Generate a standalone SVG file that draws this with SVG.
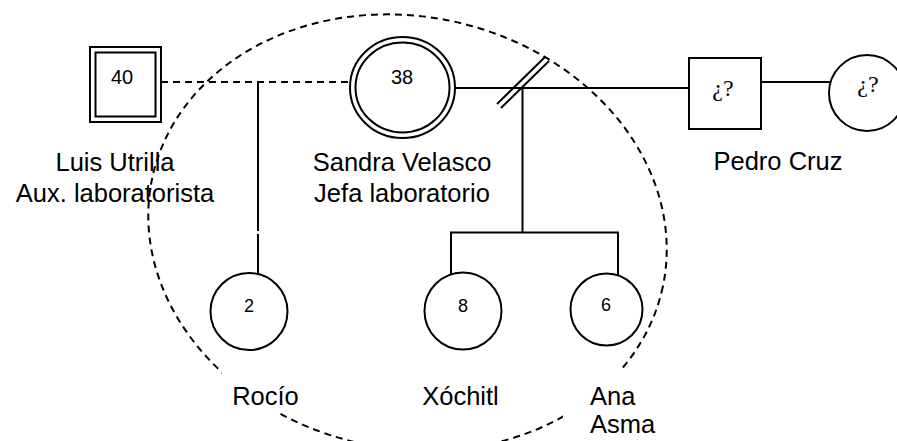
<svg xmlns="http://www.w3.org/2000/svg" width="897" height="441" viewBox="0 0 897 441">
  <style>
    .shape { fill: #fff; stroke: #000; stroke-width: 2; }
    .line { fill: none; stroke: #000; stroke-width: 2; }
    .dash { fill: none; stroke: #000; stroke-width: 2; stroke-dasharray: 7 5; }
    .num { font-family: "Liberation Sans", Arial, sans-serif; font-size: 20px; fill: #000; text-anchor: middle; }
    .small { font-size: 18px; }
    .q { font-family: "Liberation Serif", "Times New Roman", serif; font-size: 24px; fill: #000; text-anchor: middle; }
    .lbl { font-family: "Liberation Sans", Arial, sans-serif; font-size: 25.5px; fill: #000; text-anchor: middle; }
    .left { text-anchor: start; }
    .mask { fill: #fff; stroke: none; }
  </style>

  <!-- household boundary -->
  <g id="household">
    <ellipse class="dash" cx="407.5" cy="232.5" rx="261" ry="216" transform="rotate(12 407.5 232.5)"/>
  </g>

  <!-- connectors -->
  <g id="connectors">
    <line class="dash" x1="161" y1="82" x2="350" y2="82"/>
    <line class="line" x1="258" y1="82" x2="258" y2="231"/>
    <line class="line" x1="258" y1="234" x2="258" y2="274"/>
    <line class="line" x1="455" y1="88" x2="689" y2="88"/>
    <line class="line" x1="497" y1="104" x2="545" y2="57"/>
    <line class="line" x1="501" y1="108" x2="549" y2="61"/>
    <line class="line" x1="522.5" y1="88" x2="522.5" y2="233"/>
    <line class="line" x1="450" y1="232.5" x2="619" y2="232.5"/>
    <line class="line" x1="451" y1="232.5" x2="451" y2="276"/>
    <line class="line" x1="618" y1="232.5" x2="618" y2="276"/>
    <line class="line" x1="761" y1="82" x2="830" y2="82"/>
  </g>

  <!-- Luis Utrilla -->
  <g id="luis">
    <rect class="shape" x="90" y="47" width="71" height="75"/>
    <rect class="shape" x="95.5" y="52.5" width="60" height="64"/>
    <text class="num" x="122" y="84">40</text>
    <text class="lbl" x="115" y="171">Luis Utrilla</text>
    <text class="lbl" x="115" y="202">Aux. laboratorista</text>
  </g>

  <!-- Sandra Velasco -->
  <g id="sandra">
    <ellipse class="shape" cx="402.5" cy="87.5" rx="52.5" ry="50.5"/>
    <ellipse class="shape" cx="402.5" cy="87.5" rx="47" ry="45"/>
    <text class="num" x="402" y="84">38</text>
    <text class="lbl" x="402" y="171">Sandra Velasco</text>
    <text class="lbl" x="402" y="202">Jefa laboratorio</text>
  </g>

  <!-- Pedro Cruz -->
  <g id="pedro">
    <rect class="shape" x="689" y="58" width="72" height="71"/>
    <text class="q" x="723" y="96">¿?</text>
    <text class="lbl" x="778" y="170">Pedro Cruz</text>
  </g>

  <!-- partner of Pedro Cruz -->
  <g id="pedro-partner">
    <ellipse class="shape" cx="867" cy="93" rx="38" ry="38"/>
    <text class="q" x="868" y="92">¿?</text>
  </g>

  <!-- Rocío -->
  <g id="rocio">
    <circle class="shape" cx="249" cy="311.5" r="38.5"/>
    <text class="num small" x="249" y="312">2</text>
    <rect class="mask" x="222" y="360" width="90" height="52"/>
    <text class="lbl" x="265.5" y="405">Rocío</text>
  </g>

  <!-- Xóchitl -->
  <g id="xochitl">
    <circle class="shape" cx="463" cy="311" r="38.5"/>
    <text class="num small" x="463" y="312">8</text>
    <text class="lbl" x="460.5" y="405">Xóchitl</text>
  </g>

  <!-- Ana Asma -->
  <g id="ana">
    <circle class="shape" cx="606.5" cy="309.5" r="36"/>
    <text class="num small" x="606" y="311">6</text>
    <rect class="mask" x="563" y="368" width="100" height="73"/>
    <text class="lbl left" x="590" y="405">Ana</text>
    <text class="lbl left" x="590" y="433">Asma</text>
  </g>
</svg>
